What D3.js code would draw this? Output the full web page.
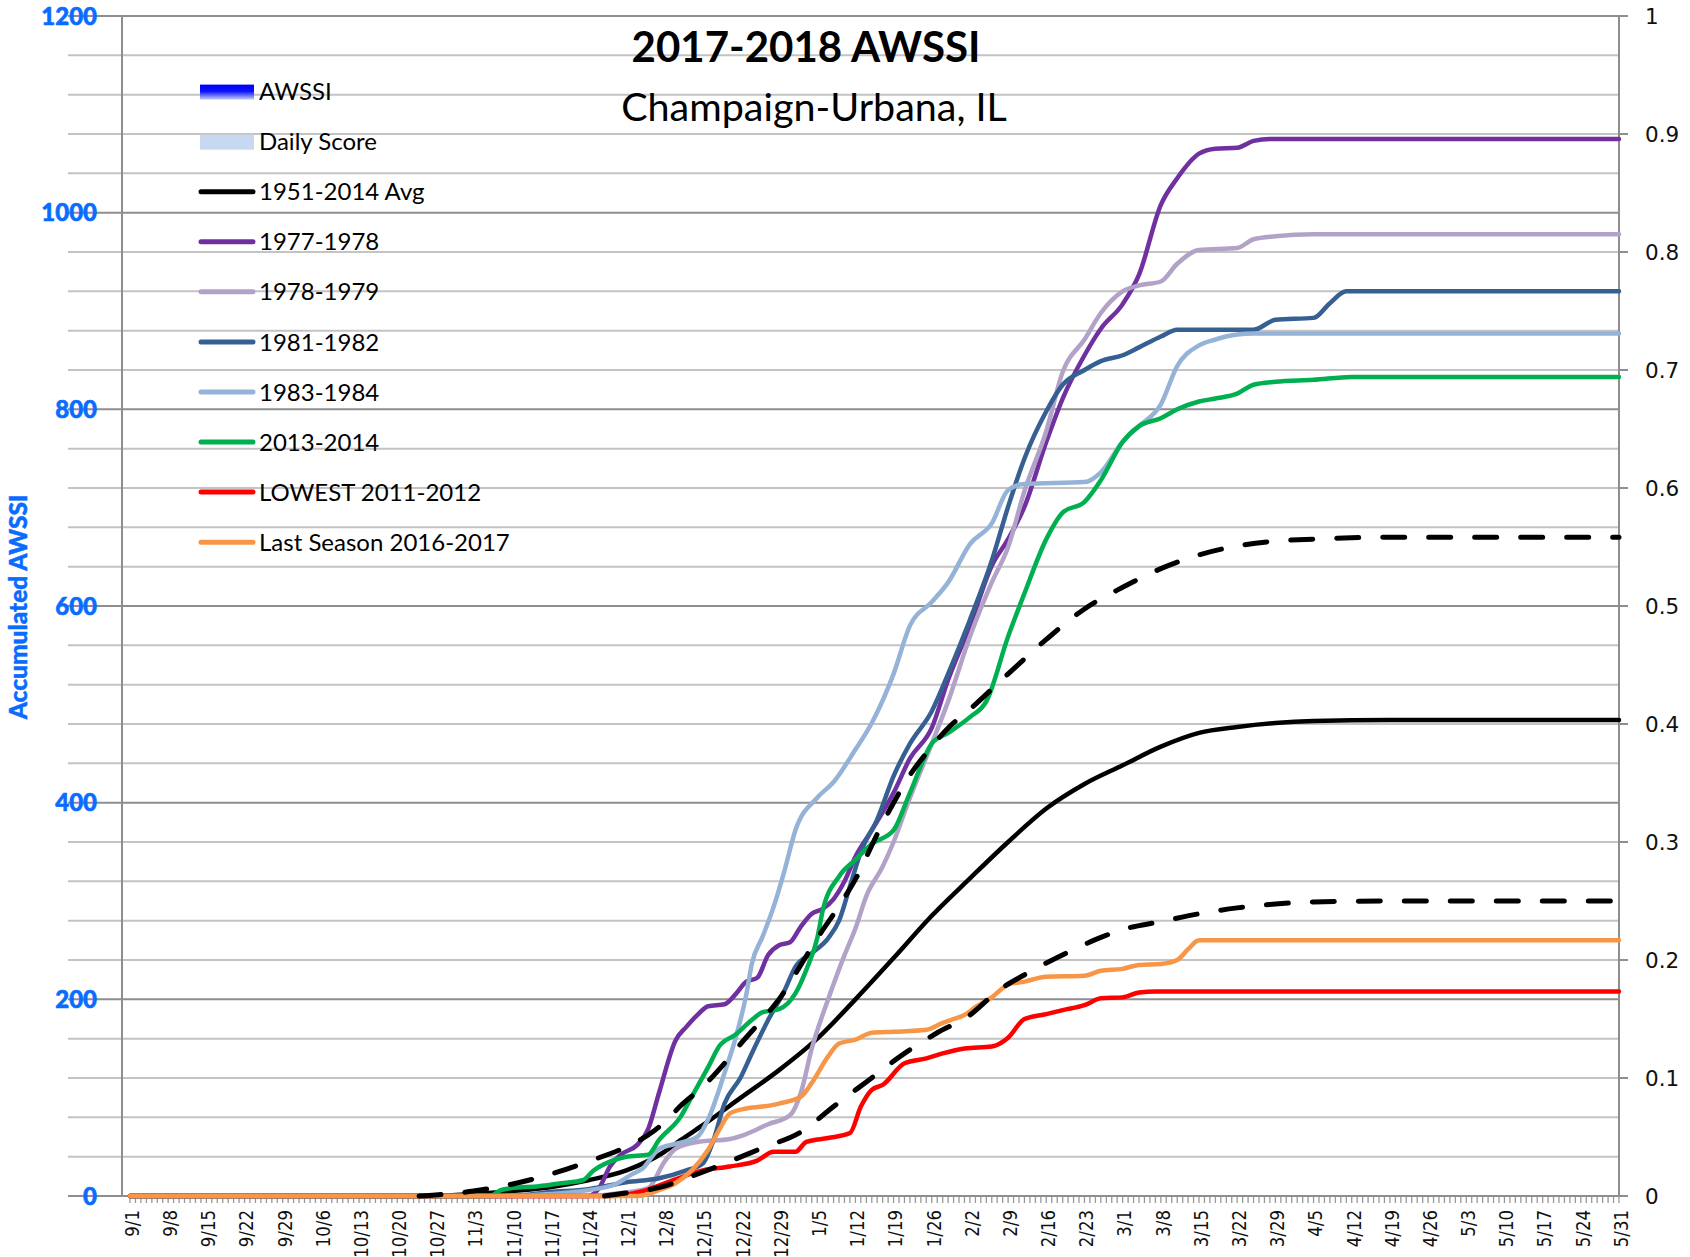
<!DOCTYPE html>
<html>
<head>
<meta charset="utf-8">
<script src="https://cdn.jsdelivr.net/npm/d3@7"></script>
<style>
  html, body { margin: 0; padding: 0; background: #ffffff; }
  svg { display: block; }
</style>
</head>
<body>
<svg id="chart" width="1690" height="1257"></svg>
<script>
// ---- Season calendar (Sept 1 .. May 31, leap-year layout) ----
const weekLabels = ["9/1","9/8","9/15","9/22","9/29","10/6","10/13","10/20","10/27","11/3",
  "11/10","11/17","11/24","12/1","12/8","12/15","12/22","12/29","1/5","1/12",
  "1/19","1/26","2/2","2/9","2/16","2/23","3/1","3/8","3/15","3/22",
  "3/29","4/5","4/12","4/19","4/26","5/3","5/10","5/17","5/24","5/31"];

const leftTicks = [0, 200, 400, 600, 800, 1000, 1200];
const rightTicks = [0, 0.1, 0.2, 0.3, 0.4, 0.5, 0.6, 0.7, 0.8, 0.9, 1];

// ---- Accumulated AWSSI by date ----
const avg19512014 = [["9/1",0],["10/27",0],["11/3",2],["11/10",5],["11/17",9],["11/24",16],["12/1",26],
  ["12/8",45],["12/11",57],["12/15",72],["12/22",100],["12/29",128],["1/5",160],["1/12",200],["1/19",242],
  ["1/26",285],["2/2",323],["2/9",360],["2/16",394],["2/23",419],["3/1",438],["3/8",457],["3/15",471],
  ["3/22",477],["3/29",481],["4/5",483],["4/19",484],["5/31",484]];

const upperBand = [["10/24",0],["10/27",1],["11/3",5],["11/10",12],["11/17",22],["11/24",35],
  ["12/1",50],["12/5",62],["12/8",75],["12/11",92],["12/15",111],["12/19",135],["12/22",155],["12/26",180],
  ["12/29",200],["1/2",235],["1/5",262],["1/9",295],["1/12",322],["1/16",368],["1/19",400],["1/22",428],
  ["1/26",457],["1/29",476],["2/2",495],["2/9",531],["2/16",566],["2/23",597],["3/1",619],["3/8",638],
  ["3/15",652],["3/22",661],["3/29",666],["4/5",668],["4/19",670],["5/31",670]];

const lowerBand = [["11/27",0],["12/1",3],["12/8",10],["12/12",18],["12/19",33],["12/26",49],
  ["1/2",65],["1/8",91],["1/14",116],["1/21",145],["1/27",166],["2/2",184],["2/7",208],["2/13",228],
  ["2/20",248],["2/26",263],["3/1",271],["3/8",279],["3/15",287],["3/22",293],["3/29",297],["4/5",299],
  ["4/19",300],["5/31",300]];

const season1977 = [["9/1",0],["11/24",0],["11/26",8],["11/28",30],["11/30",42],["12/3",52],["12/5",68],
  ["12/7",105],["12/10",158],["12/12",172],["12/14",184],["12/16",193],["12/19",195],["12/21",205],
  ["12/23",218],["12/25",222],["12/27",245],["12/29",255],["12/31",258],["1/2",274],["1/4",287],["1/6",292],
  ["1/8",302],["1/10",320],["1/12",345],["1/15",372],["1/19",410],["1/22",445],["1/26",476],["1/29",525],
  ["2/2",580],["2/6",641],["2/9",668],["2/12",701],["2/16",767],["2/19",811],["2/23",855],["2/26",882],
  ["3/1",907],["3/4",937],["3/8",1008],["3/11",1035],["3/15",1060],["3/18",1065],["3/22",1066],
  ["3/25",1073],["3/28",1075],["5/31",1075]];

const season1978 = [["9/1",0],["11/24",0],["11/30",3],["12/5",8],["12/8",35],["12/10",48],["12/14",55],
  ["12/20",58],["12/23",63],["12/27",73],["12/31",82],["1/2",105],["1/4",150],["1/7",200],["1/10",245],
  ["1/12",272],["1/14",305],["1/17",335],["1/19",360],["1/22",405],["1/26",460],["1/29",503],["2/2",569],
  ["2/6",624],["2/9",660],["2/12",717],["2/16",778],["2/19",838],["2/23",871],["2/26",898],["3/1",920],
  ["3/4",926],["3/8",930],["3/11",948],["3/15",962],["3/22",964],["3/25",973],["3/29",976],["4/5",978],
  ["5/31",978]];

const season1981 = [["9/1",0],["11/10",0],["11/17",4],["11/24",7],["12/1",14],["12/7",18],["12/12",26],
  ["12/15",33],["12/17",57],["12/19",94],["12/22",121],["12/24",145],["12/27",179],["12/30",209],
  ["1/1",233],["1/4",247],["1/7",262],["1/9",280],["1/11",315],["1/13",350],["1/16",383],["1/19",427],
  ["1/22",460],["1/26",493],["1/29",531],["2/2",586],["2/6",646],["2/9",701],["2/12",750],["2/16",798],
  ["2/19",825],["2/23",840],["2/26",849],["3/1",855],["3/4",863],["3/8",874],["3/11",881],["3/25",881],
  ["3/29",891],["4/5",893],["4/8",908],["4/11",920],["5/31",920]];

const season1983 = [["9/1",0],["11/10",0],["11/17",2],["11/24",6],["11/29",12],["12/2",22],["12/4",28],
  ["12/7",48],["12/10",53],["12/14",60],["12/16",78],["12/19",125],["12/21",160],["12/23",205],
  ["12/24",236],["12/26",264],["12/28",294],["12/30",331],["1/1",372],["1/5",405],["1/8",421],["1/12",454],
  ["1/15",481],["1/19",531],["1/22",580],["1/26",604],["1/29",624],["2/2",663],["2/6",684],["2/9",718],
  ["2/12",724],["2/23",726],["2/26",736],["3/1",767],["3/4",783],["3/8",805],["3/11",844],["3/15",865],
  ["3/18",871],["3/22",876],["3/25",877],["5/31",877]];

const season2013 = [["9/1",0],["11/6",0],["11/8",6],["11/10",8],["11/15",10],["11/19",13],["11/23",16],
  ["11/25",26],["11/28",35],["12/1",40],["12/5",42],["12/7",57],["12/11",81],["12/13",101],["12/16",131],
  ["12/18",152],["12/21",164],["12/24",179],["12/26",187],["12/29",190],["1/1",206],["1/3",230],
  ["1/5",262],["1/6",290],["1/9",325],["1/12",342],["1/15",358],["1/19",372],["1/22",410],["1/26",460],
  ["1/29",471],["2/2",487],["2/5",503],["2/9",569],["2/12",613],["2/16",668],["2/19",695],["2/23",706],
  ["2/26",728],["3/1",767],["3/4",783],["3/8",791],["3/11",800],["3/15",808],["3/18",811],["3/22",816],
  ["3/25",825],["3/29",828],["4/5",830],["4/12",833],["5/31",833]];

const season2011 = [["9/1",0],["11/28",0],["12/4",5],["12/10",17],["12/15",26],["12/20",30],["12/25",36],
  ["12/28",45],["1/1",45],["1/3",55],["1/7",59],["1/11",64],["1/13",91],["1/15",108],["1/17",113],
  ["1/21",135],["1/25",140],["1/28",145],["2/1",150],["2/6",152],["2/9",161],["2/12",180],["2/16",185],
  ["2/19",189],["2/23",194],["2/26",201],["3/1",202],["3/4",207],["3/7",208],["5/31",208]];

const season2016 = [["9/1",0],["12/3",0],["12/7",6],["12/10",13],["12/13",26],["12/16",47],["12/18",67],
  ["12/20",84],["12/23",89],["12/26",91],["12/29",94],["1/2",101],["1/4",115],["1/7",142],["1/9",155],
  ["1/12",159],["1/15",166],["1/19",167],["1/25",169],["1/28",176],["1/30",180],["2/1",184],["2/3",192],
  ["2/6",202],["2/9",215],["2/12",218],["2/16",223],["2/23",224],["2/26",229],["3/1",231],["3/4",235],
  ["3/8",236],["3/11",240],["3/13",251],["3/15",260],["5/31",260]];

// ---- Legend / series styling ----
const lineSeries = [
  { name: "1951-2014 Avg",          data: avg19512014, color: "#000000" },
  { name: "1977-1978",              data: season1977,  color: "#7030A0" },
  { name: "1978-1979",              data: season1978,  color: "#B3A2C7" },
  { name: "1981-1982",              data: season1981,  color: "#376092" },
  { name: "1983-1984",              data: season1983,  color: "#95B3D7" },
  { name: "2013-2014",              data: season2013,  color: "#00B050" },
  { name: "LOWEST 2011-2012",       data: season2011,  color: "#FF0000" },
  { name: "Last Season 2016-2017",  data: season2016,  color: "#F79646" }
];
const bandSeries = [upperBand, lowerBand];

// ---- helpers ----
const monthOffset = { 9: 0, 10: 30, 11: 61, 12: 91, 1: 122, 2: 153, 3: 182, 4: 213, 5: 243 };
function dayIndex(md) {
  const [m, d] = md.split("/").map(Number);
  return monthOffset[m] + d - 1;
}
const lastDay = dayIndex("5/31");

// ---- layout ----
const plotTop = 16, plotBottom = 1196;
const axisLeftX = 122, axisRightX = 1619;
const gridStartX = 68;
const blue = "#0A6CFF";

const svg = d3.select("#chart");
svg.append("rect").attr("width", 1690).attr("height", 1257).attr("fill", "#ffffff");

const x = d3.scaleLinear().domain([0, lastDay]).range([130, axisRightX]);
const y = d3.scaleLinear().domain([0, 1200]).range([plotBottom, plotTop]);
const y2 = d3.scaleLinear().domain([0, 1]).range([plotBottom, plotTop]);

// gridlines every 40 units; darker on the labelled 200s
const grid = svg.append("g");
d3.range(0, 1201, 40).forEach(v => {
  const major = v % 200 === 0;
  grid.append("line")
    .attr("x1", gridStartX).attr("x2", axisRightX)
    .attr("y1", y(v)).attr("y2", y(v))
    .attr("stroke", major ? "#8E8E8E" : "#C3C3C3")
    .attr("stroke-width", 2);
});

// left axis
svg.append("line").attr("x1", axisLeftX).attr("x2", axisLeftX)
  .attr("y1", plotTop).attr("y2", plotBottom + 1)
  .attr("stroke", "#8E8E8E").attr("stroke-width", 2);

svg.append("g").selectAll("text").data(leftTicks).join("text")
  .attr("x", 97).attr("y", d => y(d)).attr("dy", "0.36em")
  .attr("text-anchor", "end")
  .attr("font-family", "Lato, 'Open Sans', sans-serif").attr("font-weight", 900)
  .attr("font-size", 24).attr("fill", blue)
  .attr("stroke", blue).attr("stroke-width", 0.6)
  .text(d => d);

svg.append("text")
  .attr("transform", `translate(27,607) rotate(-90)`)
  .attr("text-anchor", "middle")
  .attr("font-family", "Lato, 'Open Sans', sans-serif").attr("font-weight", 900)
  .attr("font-size", 24.5).attr("fill", blue)
  .attr("stroke", blue).attr("stroke-width", 0.5)
  .text("Accumulated AWSSI");

// right axis
svg.append("line").attr("x1", axisRightX).attr("x2", axisRightX)
  .attr("y1", plotTop).attr("y2", plotBottom)
  .attr("stroke", "#8E8E8E").attr("stroke-width", 2);
const rAx = svg.append("g");
rAx.selectAll("line").data(rightTicks).join("line")
  .attr("x1", axisRightX).attr("x2", axisRightX + 9)
  .attr("y1", d => y2(d)).attr("y2", d => y2(d))
  .attr("stroke", "#8E8E8E").attr("stroke-width", 2);
rAx.selectAll("text").data(rightTicks).join("text")
  .attr("x", 1645).attr("y", d => y2(d)).attr("dy", "0.36em")
  .attr("font-family", "'DejaVu Sans', Verdana, sans-serif")
  .attr("font-size", 21.5).attr("fill", "#111")
  .text(d => d3.format("~g")(d));

// bottom axis: daily ticks and weekly labels
const bx = svg.append("g");
bx.selectAll("line").data(d3.range(0, lastDay + 1)).join("line")
  .attr("x1", d => x(d)).attr("x2", d => x(d))
  .attr("y1", plotBottom + 1).attr("y2", plotBottom + 7)
  .attr("stroke", "#9A9A9A").attr("stroke-width", 1.3);
bx.selectAll("text").data(weekLabels).join("text")
  .attr("transform", d => `translate(${x(dayIndex(d)) + 8.8},1210) rotate(-90) scale(0.83,1)`)
  .attr("text-anchor", "end")
  .attr("font-family", "'DejaVu Sans', Verdana, sans-serif")
  .attr("font-size", 20).attr("fill", "#111")
  .text(d => d);

// series
const line = d3.line()
  .x(d => x(dayIndex(d[0])))
  .y(d => y(d[1]))
  .curve(d3.curveMonotoneX);

const plot = svg.append("g");
lineSeries.forEach(s => {
  plot.append("path")
    .attr("d", line(s.data))
    .attr("fill", "none")
    .attr("stroke", s.color)
    .attr("stroke-width", 4.5)
    .attr("stroke-linejoin", "round")
    .attr("stroke-linecap", "round");
});
bandSeries.forEach(b => {
  plot.append("path")
    .attr("d", line(b))
    .attr("fill", "none")
    .attr("stroke", "#000")
    .attr("stroke-width", 5)
    .attr("stroke-dasharray", "22,24")
    .attr("stroke-linecap", "round");
});

// title
svg.append("text").attr("x", 806).attr("y", 62).attr("text-anchor", "middle")
  .attr("font-family", "Lato, 'Open Sans', sans-serif").attr("font-weight", 700)
  .attr("font-size", 42).attr("fill", "#000").text("2017-2018 AWSSI");
svg.append("text").attr("x", 814).attr("y", 121).attr("text-anchor", "middle")
  .attr("font-family", "Lato, 'Open Sans', sans-serif")
  .attr("font-size", 39.5).attr("fill", "#000").text("Champaign-Urbana, IL");

// legend
const defs = svg.append("defs");
const grad = defs.append("linearGradient").attr("id", "awssiFill")
  .attr("x1", 0).attr("y1", 0).attr("x2", 0).attr("y2", 1);
grad.append("stop").attr("offset", "0%").attr("stop-color", "#0000F2");
grad.append("stop").attr("offset", "45%").attr("stop-color", "#0A14FF");
grad.append("stop").attr("offset", "100%").attr("stop-color", "#C8CEF4");

const legendItems = [
  { name: "AWSSI", kind: "gradient" },
  { name: "Daily Score", kind: "box", color: "#C6D9F1" },
  ...lineSeries.map(s => ({ name: s.name, kind: "line", color: s.color }))
];
const lg = svg.append("g");
legendItems.forEach((it, i) => {
  const cy = 91.6 + i * 50.06;
  if (it.kind === "gradient") {
    lg.append("rect").attr("x", 200).attr("y", cy - 7).attr("width", 54).attr("height", 15)
      .attr("fill", "url(#awssiFill)");
  } else if (it.kind === "box") {
    lg.append("rect").attr("x", 200).attr("y", cy - 7).attr("width", 54).attr("height", 15)
      .attr("fill", it.color);
  } else {
    lg.append("line").attr("x1", 201).attr("x2", 253).attr("y1", cy).attr("y2", cy)
      .attr("stroke", it.color).attr("stroke-width", 5).attr("stroke-linecap", "round");
  }
  lg.append("text").attr("x", 259).attr("y", cy).attr("dy", "0.36em")
    .attr("font-family", "Lato, 'Open Sans', sans-serif")
    .attr("font-size", 24).attr("fill", "#000").text(it.name);
});
</script>
</body>
</html>
